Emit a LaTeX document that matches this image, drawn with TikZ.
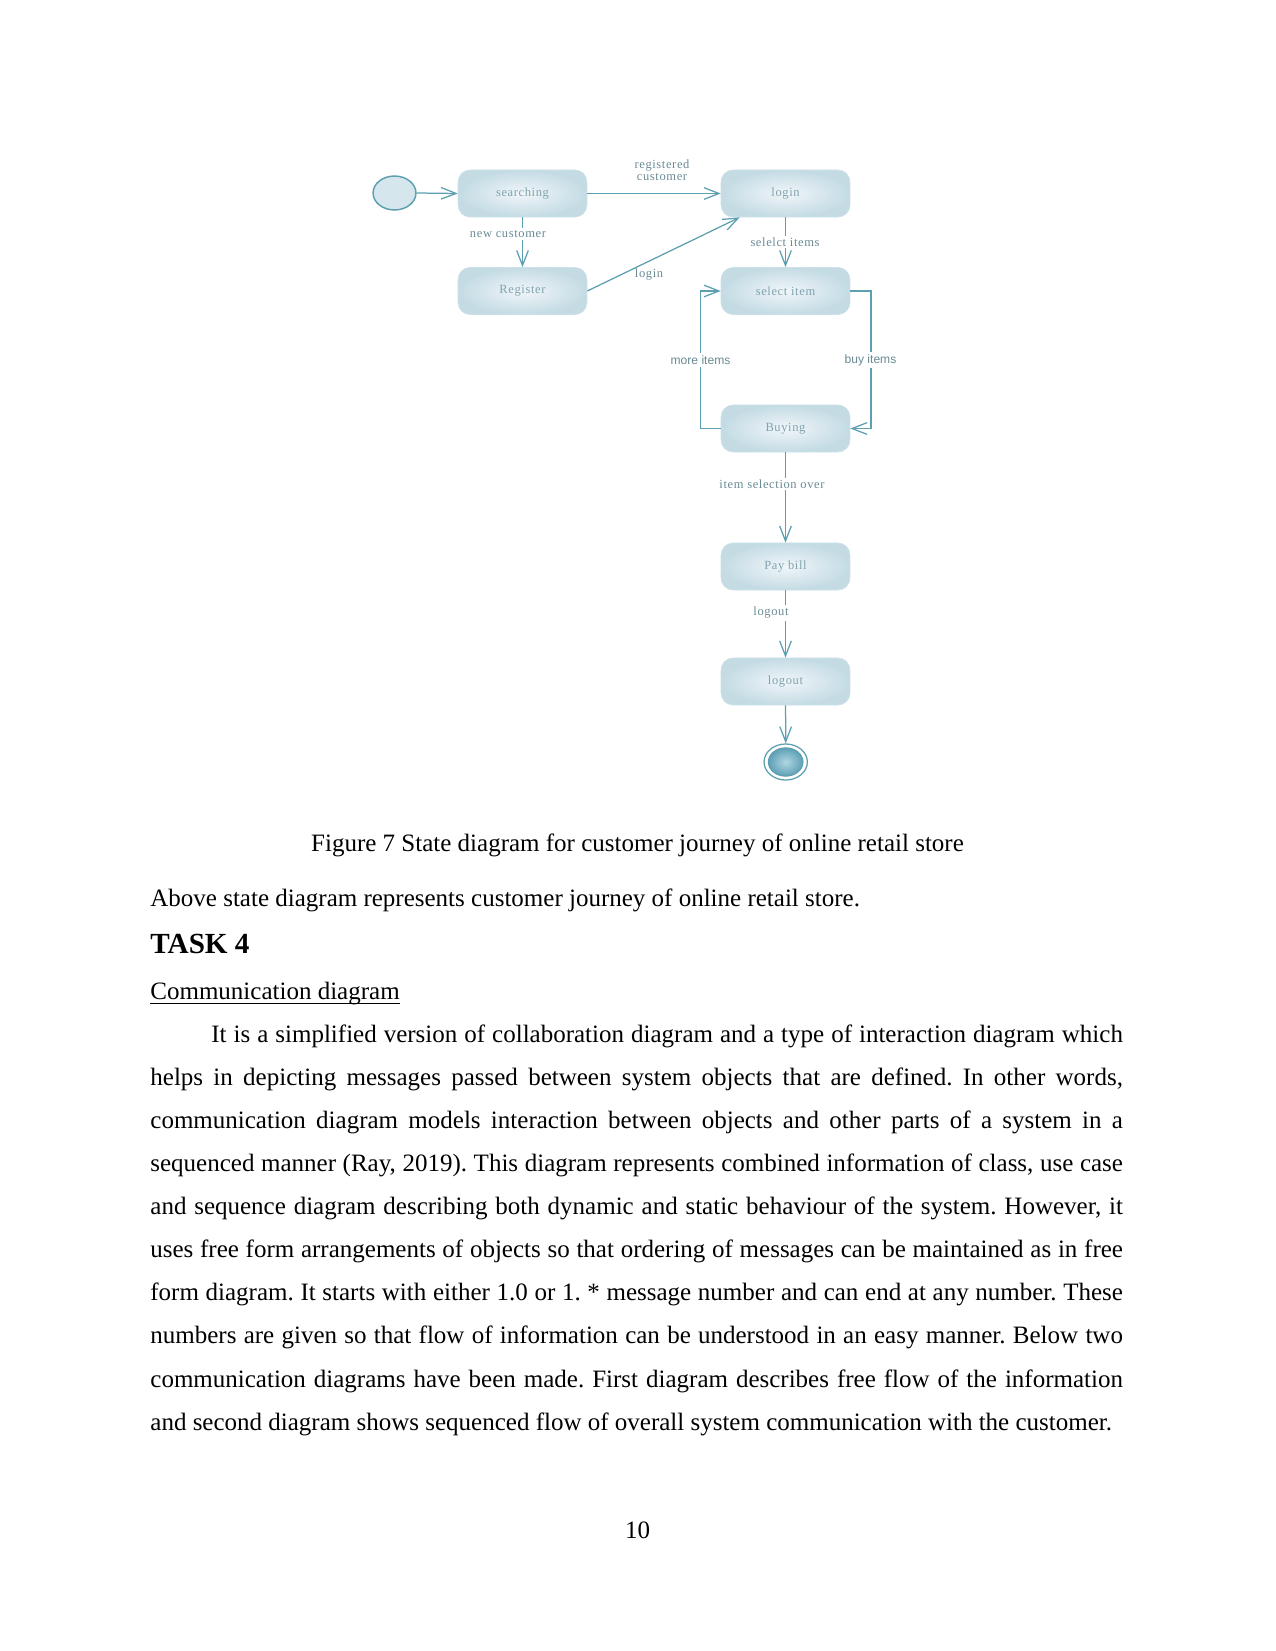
\documentclass[tikz,border=0pt]{standalone}
\usepackage{fontspec}
\setmainfont{Liberation Serif}
\newfontfamily\diagfont[LetterSpace=5]{Liberation Serif}
\newfontfamily\diagsans{Liberation Sans}
\usetikzlibrary{arrows.meta,calc,shapes.geometric}
\definecolor{linecol}{RGB}{92,159,176}
\definecolor{labcol}{RGB}{105,138,148}
\definecolor{boxtext}{RGB}{128,163,174}
\definecolor{boxin}{RGB}{240,246,249}
\definecolor{boxout}{RGB}{196,219,228}
\definecolor{boxedge}{RGB}{205,225,232}
\definecolor{initfill}{RGB}{213,230,237}
\definecolor{finin}{RGB}{175,214,226}
\definecolor{finout}{RGB}{95,160,182}
\frenchspacing
\begin{document}
\frenchspacing
\begin{tikzpicture}[x=0.48pt,y=-0.48pt,
  state/.style={rounded corners=5.8pt, minimum width=61.9pt, minimum height=22.6pt,
    inner color=boxin, outer color=boxout, draw=boxedge, line width=0.3pt,
    font=\diagfont\fontsize{6}{7}\selectfont, text=boxtext},
  lab/.style={font=\diagfont\fontsize{6}{7}\selectfont, text=labcol, inner sep=1pt},
  slab/.style={font=\diagsans\fontsize{5.8}{7}\selectfont, text=labcol, inner sep=1pt},
  arr/.style={draw=linecol, line width=0.6pt, -{Straight Barb[length=7.2pt,width=5.6pt]}},
  txt/.style={inner sep=0pt, font=\fontsize{12}{14}\selectfont}]
\useasboundingbox (0,0) rectangle (1275,1651);
% states
\node[ellipse, minimum width=20.6pt, minimum height=16.3pt, fill=initfill, draw=linecol, line width=0.7pt] (init) at (394.5,193) {};
\node[state] (search) at (522.5,193.5) {searching};
\node[state] (login) at (785.5,193.5) {login};
\node[state] (reg) at (522.5,291) {Register};
\node[state] (sel) at (785.5,291) {select item};
\node[state] (buy) at (785.5,428.5) {Buying};
\node[state] (pay) at (785.5,566.5) {Pay bill};
\node[state] (lout) at (785.5,681.5) {logout};
\node[ellipse, minimum width=20.8pt, minimum height=17.3pt, fill=white, draw=linecol, line width=0.6pt] (fin) at (785.7,762) {};
\node[ellipse, minimum width=16.6pt, minimum height=13.6pt, inner color=finin, outer color=finout, draw=linecol, line width=0.5pt] (fincore) at (785.7,762) {};
% transitions
\draw[arr] (init.east) -- (search.west);
\draw[arr] (search.east) -- (login.west);
\draw[arr] (search) -- (reg);
\draw[arr] (reg.east) -- ($(login.south west)+(19,0)$);
\draw[arr] (login) -- (sel);
\draw[arr] (sel.east) -- ++(20.7,0) |- (buy.east);
\draw[arr] (buy.west) -- ++(-20.3,0) |- (sel.west);
\draw[arr] (buy) -- (pay);
\draw[arr] (pay) -- (lout);
\draw[arr] (lout) -- (fin.north);
% labels
\node[lab, align=center] (lreg) at (662,170) {registered\\[-1pt]customer};
\node[lab, fill=white] (lnew) at (508,234) {new customer};
\node[lab] (llog) at (649,275) {login};
\node[lab, fill=white] (lsel) at (785,242) {selelct items};
\node[slab, fill=white] (lmore) at (700.5,360) {more items};
\node[slab, fill=white] (lbuy) at (870.5,360) {buy items};
\node[lab, fill=white] (lover) at (772,484) {item selection over};
\node[lab, fill=white] (lout2) at (771,613) {logout};
% page text
\node[txt, anchor=base] (cap) at (637.5,851.7) {Figure 7 State diagram for customer journey of online retail store};
\node[txt, anchor=base west] (above) at (150,906.7) {Above state diagram represents customer journey of online retail store.};
\node[inner sep=0pt, anchor=base west, font=\fontsize{14}{16}\selectfont\bfseries] (task) at (150,953.5) {TASK 4};
\node[txt, anchor=base west] (comm) at (150,999) {Communication diagram};
\draw[line width=0.55pt] ([yshift=-2pt]comm.base west) -- ([yshift=-2pt]comm.base east);
\node[txt, anchor=base west] (p1) at (211,1042.7) {\makebox[437.5pt][s]{It is a simplified version of collaboration diagram and a type of interaction diagram which}};
\node[txt, anchor=base west] (p2) at (150,1085.7) {\makebox[466.8pt][s]{helps in depicting messages passed between system objects that are defined. In other words,}};
\node[txt, anchor=base west] (p3) at (150,1128.8) {\makebox[466.8pt][s]{communication diagram models interaction between objects and other parts of a system in a}};
\node[txt, anchor=base west] (p4) at (150,1171.8) {\makebox[466.8pt][s]{sequenced manner (Ray, 2019). This diagram represents combined information of class, use case}};
\node[txt, anchor=base west] (p5) at (150,1214.8) {\makebox[466.8pt][s]{and sequence diagram describing both dynamic and static behaviour of the system. However, it}};
\node[txt, anchor=base west] (p6) at (150,1257.9) {\makebox[466.8pt][s]{uses free form arrangements of objects so that ordering of messages can be maintained as in free}};
\node[txt, anchor=base west] (p7) at (150,1300.9) {\makebox[466.8pt][s]{form diagram. It starts with either 1.0 or 1. * message number and can end at any number. These}};
\node[txt, anchor=base west] (p8) at (150,1343.9) {\makebox[466.8pt][s]{numbers are given so that flow of information can be understood in an easy manner. Below two}};
\node[txt, anchor=base west] (p9) at (150,1387) {\makebox[466.8pt][s]{communication diagrams have been made. First diagram describes free flow of the information}};
\node[txt, anchor=base west] (p10) at (150,1430) {and second diagram shows sequenced flow of overall system communication with the customer.};
\node[txt, anchor=base] (pnum) at (637.5,1538.5) {10};
\end{tikzpicture}
\end{document}
